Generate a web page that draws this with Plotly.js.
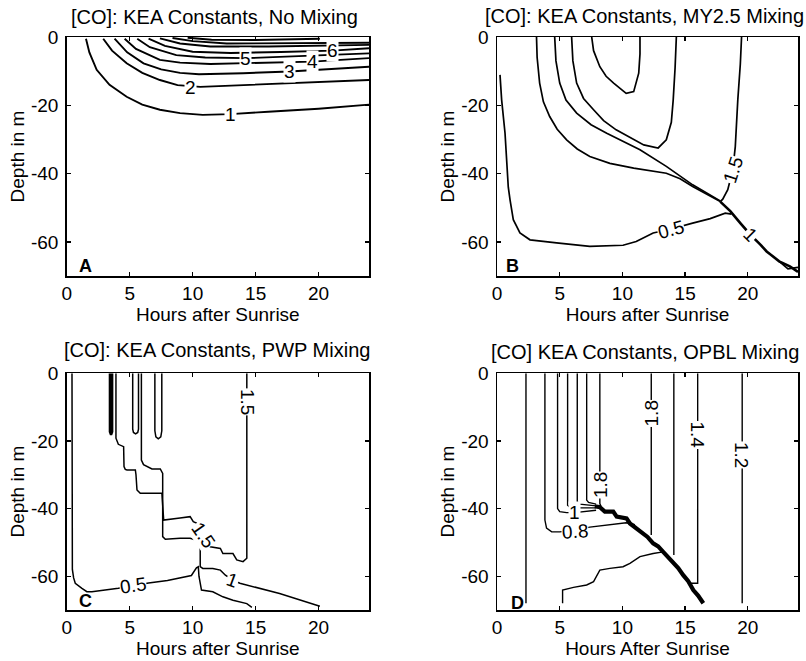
<!DOCTYPE html>
<html>
<head>
<meta charset="utf-8">
<script src="https://cdn.plot.ly/plotly-3.0.1.min.js"></script>
<style>html,body{margin:0;padding:0;background:#fff;}#chart{width:806px;height:661px;}</style>
</head>
<body>
<div id="chart"></div>
<script>
// ---------- Axis ticks ----------
const hourTicks = [0, 5, 10, 15, 20];
const depthTicks = [-60, -40, -20, 0];
const depthTickText = ['-60', '-40', '-20', '0'];

// ---------- Panel titles ----------
const panelTitles = ['[CO]: KEA Constants, No Mixing', '[CO]: KEA Constants, MY2.5 Mixing',
                     '[CO]: KEA Constants, PWP Mixing', '[CO] KEA Constants, OPBL Mixing'];
const xTitles = ['Hours after Sunrise', 'Hours after Sunrise', 'Hours after Sunrise', 'Hours After Sunrise'];
const panelLetters = ['A', 'B', 'C', 'D'];

// ---------- Panel A: No mixing (hours, depth) ----------
const a1x = [1.53, 1.8, 2.38, 3.4, 4.76, 6.0, 7.4, 9.0, 10.8, 13, 16, 20, 24];
const a1y = [-0.5, -4.5, -9.6, -14, -17.5, -19.8, -21.3, -22.3, -22.8, -22.6, -21.9, -21, -19.8];
const a2x = [2.9, 3.6, 4.76, 6.0, 7.4, 8.8, 10.6, 14, 18, 24];
const a2y = [-0.5, -4.0, -7.7, -10.5, -12.6, -14.1, -14.6, -14.1, -13.5, -12.6];
const a3x = [3.8, 4.8, 6.1, 7.5, 9, 10.5, 14, 17.7, 24];
const a3y = [-0.5, -4.5, -7.7, -9.5, -10.5, -10.9, -10.6, -10.1, -8.7];
const a4x = [4.6, 5.5, 7.4, 9, 11.4, 15, 19.5, 24];
const a4y = [-0.5, -3.5, -6.7, -7.5, -7.9, -7.6, -7.2, -6.2];
const a5x = [5.6, 6.6, 8.7, 11, 14.2, 18, 24];
const a5y = [-0.5, -3, -5.3, -6.0, -6.2, -5.6, -4.8];
const a6x = [6.5, 7.8, 10, 13, 17, 21.1, 24];
const a6y = [-0.5, -2.6, -4.3, -4.7, -4.4, -4.0, -3.3];
const a7x = [7.4, 9, 11.4, 16, 24];
const a7y = [-0.4, -1.9, -2.8, -2.8, -2.3];
const a8x = [8.4, 10, 12.7, 18, 24];
const a8y = [-0.3, -1.2, -1.9, -1.8, -1.7];
const a9x = [9.6, 11.5, 15, 20.1];
const a9y = [-0.2, -0.8, -0.9, -0.5];
const aLabels = ['1', '2', '3', '4', '5', '6'];
const aLabelX = [13, 9.8, 17.7, 19.5, 14.2, 21.1];
const aLabelY = [-22.8, -14.9, -10.1, -7.2, -6.2, -4.0];

// ---------- Panel B: MY2.5 mixing ----------
const b1x = [7.55, 7.7, 8.2, 8.7, 9.3, 10.3, 10.9, 11.3, 11.4, 11.4];
const b1y = [0, -4, -8.7, -11.5, -13.5, -16.5, -16, -10.6, -5, 0];
const b2x = [5.95, 6.05, 6.35, 6.9, 7.7, 8.5, 9.5, 10.6, 11.7, 12.85, 13.5, 13.9, 14.05, 14.2, 14.3];
const b2y = [0, -7, -13.5, -18, -21.3, -24.5, -27.2, -29.5, -31.6, -32.5, -30.1, -25, -18.4, -9, 0];
const b3x = [4.6, 4.7, 5.0, 5.5, 6.35, 7.5, 8.75, 10, 11.4, 13.5, 15.6, 17.8];
const b3y = [0, -7, -13.5, -18.5, -22.3, -25.7, -28.2, -30.5, -33, -37.9, -43.3, -48.0];
const b4x = [3.15, 3.2, 3.4, 3.7, 4.2, 4.8, 5.55, 6.4, 7.4, 9, 10.9, 12.2, 13.5, 14.6, 15.6, 17.8];
const b4y = [0, -6, -13.5, -19, -23.3, -27, -30.1, -32.8, -35, -37, -38.4, -39.1, -39.9, -41.5, -43.8, -48.2];
const b15x = [19.5, 19.4, 19.2, 19.0, 18.8, 18.4, 18.0, 17.8];
const b15y = [0, -8, -18.4, -32.1, -38.9, -44.7, -47.5, -48.2];
const b05x = [0.24, 0.37, 0.64, 0.77, 0.9, 1.04, 1.3, 1.83, 2.63, 4.75, 7.4, 10.05, 11.1, 12.45, 13.8, 15.6, 17.0, 18.2, 18.7];
const b05y = [-11.1, -18.4, -28.2, -37.9, -44, -47.7, -53.5, -57.4, -59.4, -60.3, -61.3, -61, -59.9, -57.4, -56.3, -54.5, -53.2, -51.6, -51.9];
const bDiagX = [17.8, 18.6, 19.4, 20.2, 21.0, 21.5, 22.5, 23.35, 24];
const bDiagY = [-48.2, -51.0, -54.5, -57.9, -60.8, -62.8, -65.7, -67.2, -68.8];
const bBranchX = [22.5, 23.2, 24];
const bBranchY = [-65.7, -67.9, -67.5];
const bLabels = ['1.5', '0.5', '1'];
const bLabelX = [18.8, 13.9, 20.2];
const bLabelY = [-39.0, -56.5, -57.9];
const bLabelAngle = [-72, -15, 45];

// ---------- Panel C: PWP mixing ----------
const c05x = [0.42, 0.42, 0.45, 0.55, 0.68, 1.21, 1.6, 2.0, 3.0, 4.1, 5.3, 6.5, 8.0, 9.0, 9.9, 10.3, 10.45, 10.5, 10.7, 11.6, 12.4, 13.2, 14.3, 14.7];
const c05y = [0, -30, -58, -60.5, -62.1, -63.6, -64.6, -64.6, -64.2, -63.6, -62.8, -62.0, -61.3, -60.6, -59.8, -57.5, -57.2, -60, -64.1, -64.6, -66.1, -67.1, -68.1, -69.2];
const c15x = [3.91, 3.91, 4.1, 4.52, 4.55, 4.65, 4.79, 5.45, 5.5, 5.58, 5.84, 7.56, 7.6, 7.7, 9.0, 9.8, 10.05, 10.3, 10.8, 11.4, 12.2, 12.4, 13.2, 13.5, 14.0, 14.3, 14.3];
const c15y = [0, -19.2, -21, -21.7, -27.6, -28.4, -28.6, -28.6, -30, -34.5, -35.5, -35.5, -38, -43.4, -42.8, -42.4, -43.9, -44.3, -48.2, -51.3, -51.8, -53.3, -53.3, -55.2, -55.7, -54.7, 0];
const c1x = [5.93, 5.93, 6.1, 6.37, 6.77, 7.43, 7.62, 7.62, 7.83, 9.0, 9.8, 10.2, 10.45, 10.6, 10.6, 10.8, 11.6, 12.2, 12.6, 13.2, 13.75, 16.9, 20.1];
const c1y = [0, -25.7, -27, -27.6, -28.3, -28.3, -29.6, -48.3, -49.1, -48.8, -48.8, -49.2, -49.8, -51, -57.2, -57.7, -57.7, -58.2, -59.7, -61.2, -62.1, -65.1, -68.9];
const cLoop1x = [3.43, 3.43, 3.52, 3.61, 3.61];
const cLoop1y = [0, -17.3, -18.2, -17.3, 0];
const cLoop2x = [5.24, 5.24, 5.3, 5.47, 5.64, 5.7, 5.7];
const cLoop2y = [0, -16.5, -17.5, -17.9, -17.5, -16.5, 0];
const cLoop3x = [7.0, 7.0, 7.08, 7.27, 7.47, 7.55, 7.55];
const cLoop3y = [0, -17, -18.8, -19.4, -18.8, -17, 0];
const cLabels = ['0.5', '1.5', '1', '1.5'];
const cLabelX = [5.3, 10.8, 13.2, 14.3];
const cLabelY = [-62.8, -47.8, -61.2, -8.4];
const cLabelAngle = [-8, 55, 20, 90];

// ---------- Panel D: OPBL mixing ----------
const d1x = [2.31, 2.31];              const d1y = [0, -68];
const d2x = [3.82, 3.82, 3.95, 4.36, 5.0, 6.2, 7.4, 9.0, 10.3, 11.0];
const d2y = [0, -43.4, -45.8, -46.9, -46.9, -46.4, -45.5, -44.8, -44.2, -44.8];
const d3x = [4.83, 4.83, 5.0, 5.55, 6.2, 7.15, 7.9];
const d3y = [0, -40, -40.9, -41.2, -41.2, -40.7, -40.5];
const d4x = [5.63, 5.63, 5.8, 6.2, 7.9];  const d4y = [0, -39, -39.6, -39.8, -39.8];
const d5x = [6.4, 6.4, 6.6, 7.9];         const d5y = [0, -38, -38.7, -39.2];
const d6x = [7.15, 7.15, 7.3, 7.9];       const d6y = [0, -37.5, -38.2, -38.7];
const d7x = [8.2, 8.2, 8.3];              const d7y = [0, -38.5, -39.4];
const d8x = [12.3, 12.3];                 const d8y = [0, -47.8];
const d9x = [14.1, 14.1];                 const d9y = [0, -53.7];
const d10x = [16.0, 16.0, 15.4];          const d10y = [0, -62.1, -62.1];
const d11x = [19.55, 19.55];              const d11y = [0, -68];
const dDiagX = [7.8, 8.2, 8.6, 9.27, 9.54, 10.33, 10.6, 11.26, 11.65, 12.0, 12.45, 12.85, 13.25, 13.6, 14.05, 14.45, 14.85, 15.25, 15.65, 16.05, 16.45];
const dDiagY = [-39.3, -39.6, -40.9, -40.9, -42.4, -42.9, -44.4, -46.4, -47.3, -48.4, -50.3, -51.2, -52.8, -54.2, -56.2, -57.6, -59.7, -61.5, -64.1, -65.8, -68];
const dLowX = [5.23, 5.23, 6.1, 7.15, 7.7, 8.2, 9.0, 10.05, 10.6, 11.4, 12.45, 13.25];
const dLowY = [-68, -64.1, -63.3, -62.6, -61.6, -58.2, -57.7, -57.2, -56.2, -54.2, -53.3, -52.8];
const dLabels = ['0.8', '1', '1.8', '1.8', '1.4', '1.2'];
const dLabelX = [6.2, 6.2, 8.3, 12.3, 16.0, 19.55];
const dLabelY = [-46.8, -41.3, -33.0, -11.8, -18.3, -24.2];
const dLabelAngle = [-3, 0, -90, -90, 90, 90];

// ---------- Build ----------
const FONT = 'Liberation Sans, Arial, Helvetica, sans-serif';
const traces = [];
function line(x, y, ax, w) {
  traces.push({type: 'scatter', mode: 'lines', x: x, y: y, xaxis: 'x' + ax, yaxis: 'y' + ax,
    line: {color: 'black', width: w, shape: 'linear'}, hoverinfo: 'skip', showlegend: false});
}
// A
[[a1x,a1y],[a2x,a2y],[a3x,a3y],[a4x,a4y],[a5x,a5y],[a6x,a6y],[a7x,a7y],[a8x,a8y],[a9x,a9y]].forEach(p => line(p[0], p[1], '', 1.9));
// B
[[b1x,b1y],[b2x,b2y],[b3x,b3y],[b4x,b4y],[b15x,b15y],[b05x,b05y],[bBranchX,bBranchY]].forEach(p => line(p[0], p[1], '2', 1.7));
line(bDiagX, bDiagY, '2', 2.6);
// C
[[c05x,c05y],[c15x,c15y],[c1x,c1y],[cLoop2x,cLoop2y],[cLoop3x,cLoop3y]].forEach(p => line(p[0], p[1], '3', 1.5));
line(cLoop1x, cLoop1y, '3', 2.4);
// D
[[d1x,d1y],[d2x,d2y],[d3x,d3y],[d4x,d4y],[d5x,d5y],[d6x,d6y],[d7x,d7y],[d8x,d8y],[d9x,d9y],[d10x,d10y],[d11x,d11y],[dLowX,dLowY]].forEach(p => line(p[0], p[1], '4', 1.4));
line(dDiagX, dDiagY, '4', 4.2);

const annotations = [];
function lab(text, x, y, ax, angle) {
  annotations.push({text: text, x: x, y: y, xref: 'x' + ax, yref: 'y' + ax, showarrow: false,
    textangle: angle || 0, bgcolor: 'white', borderpad: 0,
    font: {family: FONT, size: 19, color: 'black'}});
}
aLabels.forEach((t, i) => lab(t, aLabelX[i], aLabelY[i], '', 0));
bLabels.forEach((t, i) => lab(t, bLabelX[i], bLabelY[i], '2', bLabelAngle[i]));
cLabels.forEach((t, i) => lab(t, cLabelX[i], cLabelY[i], '3', cLabelAngle[i]));
dLabels.forEach((t, i) => lab(t, dLabelX[i], dLabelY[i], '4', dLabelAngle[i]));

const axSuffix = ['', '2', '3', '4'];
const letterX = [1.5, 1.2, 1.5, 1.6];
const letterY = [-67.0, -67.0, -67.3, -67.8];
panelLetters.forEach((t, i) => {
  annotations.push({text: '<b>' + t + '</b>', x: letterX[i], y: letterY[i], xref: 'x' + axSuffix[i], yref: 'y' + axSuffix[i],
    showarrow: false, font: {family: FONT, size: 18, color: 'black'}});
});
const titleX = [214/806, 644/806, 217/806, 645/806];
const titleY = [1 - 17/661, 1 - 16/661, 1 - 350/661, 1 - 352/661];
panelTitles.forEach((t, i) => {
  annotations.push({text: t, x: titleX[i], y: titleY[i], xref: 'paper', yref: 'paper', showarrow: false,
    xanchor: 'center', yanchor: 'middle', font: {family: FONT, size: 20, color: 'black'}});
});

const xDom = [[66.7/806, 369/806], [497/806, 798/806]];
const yDom = [[1 - 276/661, 1 - 37/661], [1 - 610/661, 1 - 373.3/661]];
function xa(dom, anchor, title) {
  return {domain: dom, anchor: anchor, range: [0, 24], tickvals: hourTicks, showline: true, linecolor: 'black', linewidth: 1.5,
    mirror: 'ticks', ticks: 'inside', ticklen: 4, tickcolor: 'black', tickwidth: 1.3, showgrid: false, zeroline: false,
    ticklabelstandoff: 0, tickfont: {family: FONT, size: 19, color: 'black'},
    title: {text: title, standoff: 3, font: {family: FONT, size: 19, color: 'black'}}, fixedrange: true};
}
function ya(dom, anchor) {
  return {domain: dom, anchor: anchor, range: [-70, 0], tickvals: depthTicks, ticktext: depthTickText, showline: true,
    linecolor: 'black', linewidth: 1.5, mirror: 'ticks', ticks: 'inside', ticklen: 4, tickcolor: 'black', tickwidth: 1.3,
    showgrid: false, zeroline: false, ticklabelstandoff: 3, tickfont: {family: FONT, size: 19, color: 'black'},
    title: {text: 'Depth in m', standoff: 1, font: {family: FONT, size: 19, color: 'black'}}, fixedrange: true};
}
const layout = {
  width: 806, height: 661, margin: {l: 0, r: 0, t: 0, b: 0}, paper_bgcolor: 'white', plot_bgcolor: 'white',
  showlegend: false, font: {family: FONT, color: 'black'},
  xaxis: xa(xDom[0], 'y', xTitles[0]), yaxis: ya(yDom[0], 'x'),
  xaxis2: xa(xDom[1], 'y2', xTitles[1]), yaxis2: ya(yDom[0], 'x2'),
  xaxis3: xa(xDom[0], 'y3', xTitles[2]), yaxis3: ya(yDom[1], 'x3'),
  xaxis4: xa(xDom[1], 'y4', xTitles[3]), yaxis4: ya(yDom[1], 'x4'),
  annotations: annotations
};
Plotly.newPlot('chart', traces, layout, {staticPlot: true, displayModeBar: false});
</script>
</body>
</html>
